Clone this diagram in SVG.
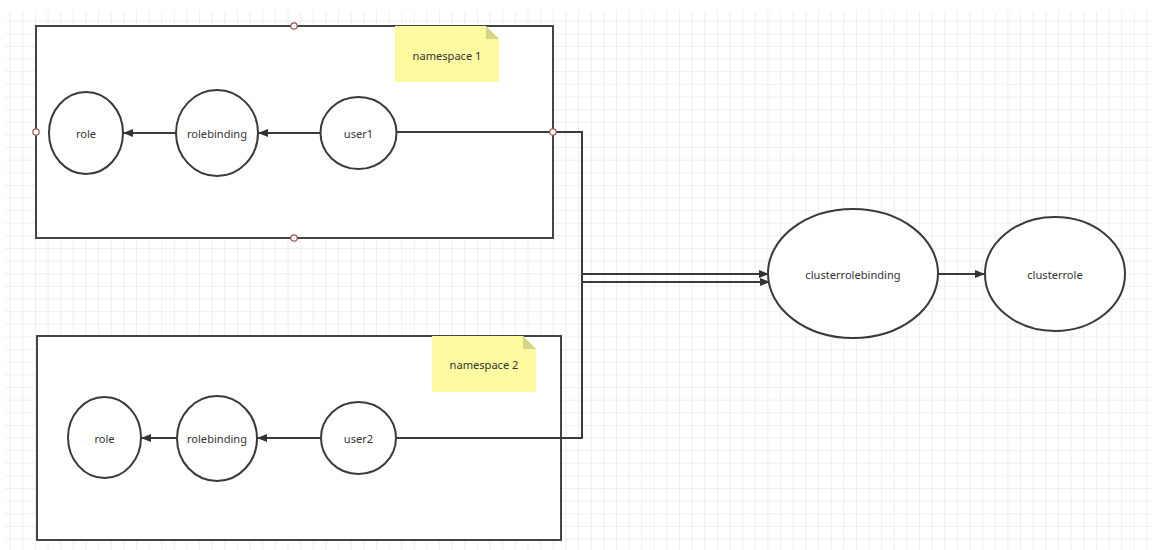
<svg xmlns="http://www.w3.org/2000/svg" width="1152" height="550" viewBox="0 0 1152 550">
<defs>
<pattern id="grid" patternUnits="userSpaceOnUse" x="22.3" y="20.7" width="12.63" height="12.63">
<path d="M0 0H12.63M0 0V12.63" fill="none" stroke="#ebebeb" stroke-width="1.6"/>
</pattern>
<marker id="arr" viewBox="0 0 10 8" refX="10" refY="4" markerWidth="10" markerHeight="8" markerUnits="userSpaceOnUse" orient="auto">
<path d="M0 0L10 4L0 8Z" fill="#333"/>
</marker>
</defs>
<style>
.box{fill:#fff;stroke:#444;stroke-width:2}
.node{fill:#fff;stroke:#3a3a3a;stroke-width:2}
.lbl{font-family:"Noto Sans","Liberation Sans",sans-serif;font-size:11.1px;fill:#333;text-anchor:middle;dominant-baseline:central}
.note{fill:#fdfaa0}
.fold{fill:#d6d38a}
.handle{fill:#fff;stroke:#a0524f;stroke-width:1.2}
.edge{fill:none;stroke:#3a3a3a;stroke-width:2}
</style>
<rect width="1152" height="550" fill="#fff"/>
<rect x="5" y="11" width="1147" height="539" fill="url(#grid)"/>

<g id="namespace1">
<rect class="box" x="36" y="26" width="517" height="212"/>
</g>
<g id="namespace2">
<rect class="box" x="37" y="336" width="524" height="204"/>
</g>

<g id="note1">
<path class="note" d="M395 26H486L499 39V82H395Z"/>
<path class="fold" d="M486 26L499 39H486Z"/>
<text class="lbl" x="447" y="55">namespace 1</text>
</g>
<g id="note2">
<path class="note" d="M432 336H523L536 349V392H432Z"/>
<path class="fold" d="M523 336L536 349H523Z"/>
<text class="lbl" x="484" y="364">namespace 2</text>
</g>

<g id="connectors">
<line class="edge" x1="321" y1="133" x2="258" y2="133" marker-end="url(#arr)"/>
<line class="edge" x1="176" y1="133" x2="123" y2="133" marker-end="url(#arr)"/>
<line class="edge" x1="321" y1="438" x2="257" y2="438" marker-end="url(#arr)"/>
<line class="edge" x1="177" y1="438" x2="141" y2="438" marker-end="url(#arr)"/>
<path class="edge" d="M396 132H582V282H770" marker-end="url(#arr)"/>
<path class="edge" d="M396 438H582V274H769" marker-end="url(#arr)"/>
<line class="edge" x1="938" y1="274" x2="985" y2="274" marker-end="url(#arr)"/>
</g>

<g id="handles">
<circle class="handle" cx="294" cy="26" r="3.2"/>
<circle class="handle" cx="36" cy="132" r="3.2"/>
<circle class="handle" cx="553" cy="132" r="3.2"/>
<circle class="handle" cx="294" cy="238" r="3.2"/>
</g>

<g id="role1">
<ellipse class="node" cx="86" cy="133" rx="37" ry="41"/>
<text class="lbl" x="86" y="133">role</text>
</g>
<g id="rolebinding1">
<ellipse class="node" cx="217" cy="133" rx="41" ry="43"/>
<text class="lbl" x="217" y="133">rolebinding</text>
</g>
<g id="user1">
<ellipse class="node" cx="358.5" cy="133" rx="38" ry="36"/>
<text class="lbl" x="358.5" y="133">user1</text>
</g>

<g id="role2">
<ellipse class="node" cx="104.5" cy="437.5" rx="36.5" ry="40.5"/>
<text class="lbl" x="104.5" y="438">role</text>
</g>
<g id="rolebinding2">
<ellipse class="node" cx="217" cy="438.5" rx="40" ry="42.5"/>
<text class="lbl" x="217" y="438">rolebinding</text>
</g>
<g id="user2">
<ellipse class="node" cx="358.5" cy="438" rx="37.5" ry="36"/>
<text class="lbl" x="358.5" y="438">user2</text>
</g>

<g id="clusterrolebinding">
<ellipse class="node" cx="853" cy="273.5" rx="85" ry="64.5"/>
<text class="lbl" x="853" y="274">clusterrolebinding</text>
</g>
<g id="clusterrole">
<ellipse class="node" cx="1055" cy="274" rx="70" ry="57"/>
<text class="lbl" x="1055" y="274">clusterrole</text>
</g>
</svg>
